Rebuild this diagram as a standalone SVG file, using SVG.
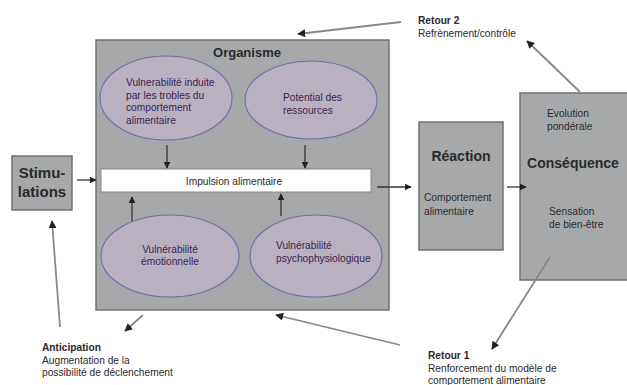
<svg xmlns="http://www.w3.org/2000/svg" width="627" height="385" viewBox="0 0 627 385">
<style>
.box{fill:#a6a8aa;stroke:#6f7173;stroke-width:1.5}
.ell{fill:#b9b1bf;stroke:#6f72a8;stroke-width:1.2}
.t{font-family:"Liberation Sans",Arial,sans-serif;font-size:10.2px;fill:#2a2a2a}
.te{font-family:"Liberation Sans",Arial,sans-serif;font-size:10.2px;fill:#3a2352}
.b{font-family:"Liberation Sans",Arial,sans-serif;font-weight:bold;fill:#2a2a2a}
.dk{stroke:#333;stroke-width:1.3;fill:none}
.gr{stroke:#888;stroke-width:1.8;fill:none}
</style>
<defs>
<marker id="ah" viewBox="0 0 10 10" refX="9" refY="5" markerWidth="7" markerHeight="7" orient="auto" markerUnits="userSpaceOnUse"><path d="M0,0L10,5L0,10z" fill="#222"/></marker>
<marker id="ag" viewBox="0 0 10 10" refX="9" refY="5" markerWidth="8" markerHeight="8" orient="auto" markerUnits="userSpaceOnUse"><path d="M0,0L10,5L0,10z" fill="#222"/></marker>
</defs>
<rect width="627" height="385" fill="#fff"/>
<g id="organisme">
<rect class="box" x="96" y="40" width="293" height="270"/>
<text class="b" x="247" y="57" font-size="13" text-anchor="middle">Organisme</text>
</g>
<g id="vuln-induite">
<ellipse class="ell" cx="166" cy="98" rx="66" ry="42"/>
<text class="te" x="126" y="86">Vulnerabilité induite</text>
<text class="te" x="126" y="98.5">par les trobles du</text>
<text class="te" x="126" y="111">comportement</text>
<text class="te" x="126" y="123.5">alimentaire</text>
</g>
<g id="potential">
<ellipse class="ell" cx="311" cy="100" rx="66" ry="39"/>
<text class="te" x="283" y="101">Potential des</text>
<text class="te" x="283" y="114">ressources</text>
</g>
<g id="impulsion">
<rect x="101" y="169" width="270" height="23" fill="#fff" stroke="#888" stroke-width="1"/>
<text class="t" x="234" y="184.5" text-anchor="middle">Impulsion alimentaire</text>
</g>
<g id="vuln-emo">
<ellipse class="ell" cx="170" cy="256" rx="69" ry="41"/>
<text class="te" x="170" y="253" text-anchor="middle">Vulnérabilité</text>
<text class="te" x="170" y="265" text-anchor="middle">émotionnelle</text>
</g>
<g id="vuln-psycho">
<ellipse class="ell" cx="316" cy="256" rx="66" ry="41"/>
<text class="te" x="276" y="249">Vulnérabilité</text>
<text class="te" x="276" y="262">psychophysiologique</text>
</g>
<g id="stimulations">
<rect class="box" x="12" y="156" width="60" height="54"/>
<text class="b" x="42" y="178" font-size="15" text-anchor="middle">Stimu-</text>
<text class="b" x="42" y="197" font-size="15" text-anchor="middle">lations</text>
</g>
<g id="reaction">
<rect class="box" x="419" y="122" width="84" height="128"/>
<text class="b" x="461" y="161" font-size="14" text-anchor="middle">Réaction</text>
<text class="t" x="424" y="201">Comportement</text>
<text class="t" x="424" y="214.5">alimentaire</text>
</g>
<g id="consequence">
<rect class="box" x="520" y="93" width="110" height="187"/>
<text class="t" x="547" y="117">Evolution</text>
<text class="t" x="547" y="130">pondérale</text>
<text class="b" x="573" y="168" font-size="14" text-anchor="middle">Conséquence</text>
<text class="t" x="549" y="215">Sensation</text>
<text class="t" x="549" y="228">de bien-être</text>
</g>
<g id="retour2">
<text class="b" x="418" y="24" font-size="10.2">Retour 2</text>
<text class="t" x="418" y="37">Refrènement/contrôle</text>
</g>
<g id="anticipation">
<text class="b" x="42" y="351" font-size="10.2">Anticipation</text>
<text class="t" x="42" y="364">Augmentation de la</text>
<text class="t" x="42" y="376">possibilité de déclenchement</text>
</g>
<g id="retour1">
<text class="b" x="428" y="359" font-size="10.2">Retour 1</text>
<text class="t" x="428" y="372">Renforcement du modèle de</text>
<text class="t" x="428" y="384">comportement alimentaire</text>
</g>
<g id="connectors">
<line class="dk" x1="167" y1="145" x2="167" y2="168" marker-end="url(#ah)"/>
<line class="dk" x1="305" y1="145" x2="305" y2="168" marker-end="url(#ah)"/>
<line class="dk" x1="132" y1="221" x2="132" y2="197" marker-end="url(#ah)"/>
<line class="dk" x1="281" y1="216" x2="281" y2="194" marker-end="url(#ah)"/>
<line class="dk" x1="77" y1="180" x2="96" y2="180" marker-end="url(#ah)"/>
<line class="dk" x1="377" y1="187" x2="411" y2="187" marker-end="url(#ah)"/>
<line class="dk" x1="507" y1="187" x2="526" y2="187" marker-end="url(#ah)"/>
<line class="gr" x1="401" y1="22" x2="298" y2="34" marker-end="url(#ag)"/>
<line class="gr" x1="580" y1="92" x2="527" y2="41" marker-end="url(#ag)"/>
<line class="gr" x1="60" y1="327" x2="52" y2="221" marker-end="url(#ag)"/>
<line class="gr" x1="143" y1="315" x2="125" y2="331" marker-end="url(#ag)"/>
<line class="gr" x1="400" y1="345" x2="276" y2="315" marker-end="url(#ag)"/>
<line class="gr" x1="550" y1="257" x2="492" y2="349" marker-end="url(#ag)"/>
</g>
</svg>
